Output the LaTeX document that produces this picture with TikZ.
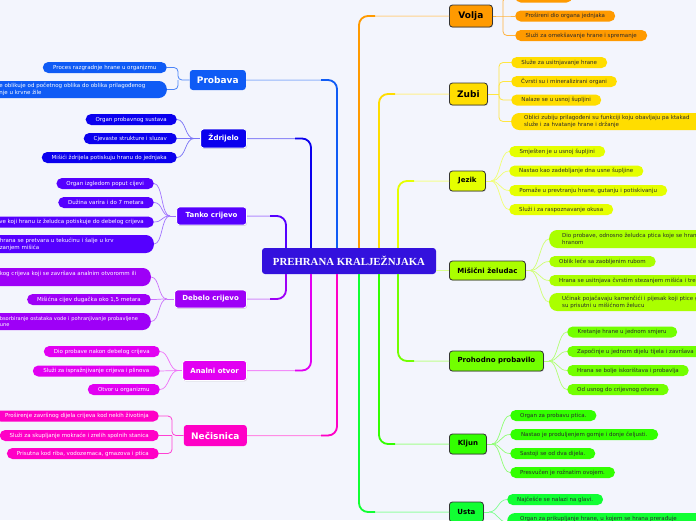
\documentclass[tikz,border=0pt]{standalone}
\usepackage{fontspec}
\setmainfont{DejaVu Sans}
\newfontfamily\serifface{Liberation Serif}
\usetikzlibrary{shadows,calc}
\definecolor{bg}{HTML}{F3F5FD}
\definecolor{cC}{HTML}{3311DD}
\definecolor{cProb}{HTML}{0F5BF5}
\definecolor{cZdr}{HTML}{0B00EE}
\definecolor{cTan}{HTML}{5500FF}
\definecolor{cDeb}{HTML}{9E00F7}
\definecolor{cAna}{HTML}{E200F2}
\definecolor{cNec}{HTML}{FF00C6}
\definecolor{cVol}{HTML}{FF9A00}
\definecolor{cZub}{HTML}{FFDD00}
\definecolor{cJez}{HTML}{E5FF00}
\definecolor{cMis}{HTML}{AAFF00}
\definecolor{cPro}{HTML}{72FF00}
\definecolor{cKlj}{HTML}{33FF00}
\definecolor{cUst}{HTML}{11FF33}
\definecolor{edge}{HTML}{333333}
\definecolor{txt}{HTML}{2A2A2A}
\tikzset{
  cent/.style={fill=cC, rounded corners=3pt, minimum width=174pt, minimum height=26pt, inner sep=0pt, text=white, font=\serifface\bfseries\fontsize{10.8}{12}\selectfont},
  mainbase/.style={rounded corners=3pt, inner sep=0pt, align=center},
  bigf/.style={font=\bfseries\fontsize{9}{10}\selectfont},
  smallf/.style={font=\bfseries\fontsize{7}{8}\selectfont},
  shad/.style={drop shadow={opacity=0.3, shadow xshift=0.6pt, shadow yshift=-0.9pt}},
  mainL/.style={mainbase, fill=#1, text=white, anchor=east},
  mainLw/.style={mainL=#1, draw=white, line width=0.8pt, shad},
  mainR/.style={mainbase, fill=#1, text=black, anchor=west, draw=edge, line width=0.8pt, shad},
  pill/.style={rounded corners=5.5pt, inner xsep=10pt, inner ysep=0pt, minimum height=11pt, font=\fontsize{5.5}{6.8}\selectfont},
  pillL/.style={pill, fill=#1, text=white, anchor=east},
  pillR/.style={pill, fill=#1, text=txt, anchor=west},
  tall/.style={rounded corners=8pt, minimum height=#1},
  trunkd/.style={draw=#1, line width=1.8pt, rounded corners=9pt},
  trunkl/.style={draw=#1!45!white, line width=1pt, rounded corners=9pt},
  twig/.style={draw=#1!55!white, line width=0.7pt},
  brack/.style={draw=#1!75!white, line width=0.8pt, rounded corners=4pt},
}
\newcommand\mytrunk[5]{\draw[trunkl=#1] (#2 -| #3) |- (#4); \draw[trunkd=#1] (#2 -| #3) |- ($(#3)+(#5,0)$);}
\newcommand\lefttwigs[4]{\foreach \n in {#3} {\draw[twig=#1] (\n.east) .. controls +(9,0) and +(-9,0) .. (#4);}\draw[twig=#1] (#4) -- (#2.west);}
\newcommand\righttwigs[4]{\foreach \n in {#3} {\draw[twig=#1] (\n.west) .. controls +(-9,0) and +(9,0) .. (#4);}\draw[twig=#1] (#4) -- (#2.east);}
\begin{document}
\begin{tikzpicture}[x=1pt,y=-1pt]
\useasboundingbox (0,0) rectangle (696,520);
\fill[bg] (0,0) rectangle (696,520);
\begin{scope}
\clip (0,0) rectangle (696,520);
% centre
\node[cent] (c) at (349,261) {PREHRANA KRALJEŽNJAKA};
% left main nodes
\node[mainL=cProb, bigf, minimum width=56pt, minimum height=20pt] (probava) at (246,80) {Probava};
\node[mainLw=cZdr, smallf, minimum width=46pt, minimum height=19pt] (zdrijelo) at (247,138.5) {Ždrijelo};
\node[mainLw=cTan, smallf, minimum width=70pt, minimum height=18pt] (tanko) at (247,216) {Tanko crijevo};
\node[mainLw=cDeb, smallf, minimum width=72pt, minimum height=18pt] (debelo) at (247,299) {Debelo crijevo};
\node[mainLw=cAna, smallf, minimum width=64pt, minimum height=20pt] (analni) at (247,370.5) {Analni otvor};
\node[mainL=cNec, bigf, minimum width=63pt, minimum height=21pt] (necisnica) at (247,435.5) {Nečisnica};
% right main nodes
\node[mainR=cVol, bigf, minimum width=43pt, minimum height=22pt] (volja) at (449,16) {Volja};
\node[mainR=cZub, bigf, minimum width=38pt, minimum height=22pt] (zubi) at (449,94) {Zubi};
\node[mainR=cJez, smallf, minimum width=36pt, minimum height=20pt] (jezik) at (449,181) {Jezik};
\node[mainR=cMis, smallf, minimum width=76pt, minimum height=19pt] (misicni) at (449,270.5) {Mišični želudac};
\node[mainR=cPro, smallf, minimum width=94pt, minimum height=20pt] (prohodno) at (449,361) {Prohodno probavilo};
\node[mainR=cKlj, smallf, minimum width=37pt, minimum height=20pt] (kljun) at (449,444) {Kljun};
\node[mainR=cUst, smallf, minimum width=34pt, minimum height=20pt] (usta) at (449,512) {Usta};
% left children
\node[pillL=cProb, minimum width=124pt] (pr1) at (167,67.5) {Proces razgradnje hrane u organizmu};
\node[pillL=cProb, tall=17pt, text width=157.5pt, align=left] (pr2) at (167,89.5) {e oblikuje od početnog oblika do oblika prilagođenog\\nje u krvne žile};
\node[pillL=cZdr, minimum width=90pt] (zd1) at (177,119.5) {Organ probavnog sustava};
\node[pillL=cZdr, minimum width=93pt] (zd2) at (177,138.5) {Cjevaste strukture i sluzav};
\node[pillL=cZdr, minimum width=135pt] (zd3) at (177,157.5) {Mišići ždrijela potiskuju hranu do jednjaka};
\node[pillL=cTan, minimum width=97pt] (tc1) at (154,183.5) {Organ izgledom poput cijevi};
\node[pillL=cTan, minimum width=95pt] (tc2) at (154,202.5) {Dužina varira i do 7 metara};
\node[pillL=cTan, text width=175pt, align=right] (tc3) at (154,222) {ve koji hranu iz želudca potiskuje do debelog crijeva};
\node[pillL=cTan, tall=18pt, text width=144pt, align=left] (tc4) at (154,244) {hrana se pretvara u tekućinu i šalje u krv\\zanjem mišića};
\node[pillL=cDeb, tall=18pt, text width=141pt, align=left] (dc1) at (151,277) {kog crijeva koji se završava analnim otvoromm ili\\\mbox{}};
\node[pillL=cDeb, minimum width=123pt] (dc2) at (151,299.5) {Mišićna cijev dugačka oko 1,5 metara};
\node[pillL=cDeb, tall=17pt, text width=141pt, align=left, font=\fontsize{5.1}{6.6}\selectfont] (dc3) at (151,321.5) {bsorbiranje ostataka vode i pohranjivanje probavljene\\une};
\node[pillL=cAna, minimum width=116pt] (ao1) at (160,351.5) {Dio probave nakon debelog crijeva};
\node[pillL=cAna, minimum width=127pt] (ao2) at (160,371) {Služi za ispražnjivanje crijeva i plinova};
\node[pillL=cAna, minimum width=72pt] (ao3) at (160,389.5) {Otvor u organizmu};
\node[pillL=cNec] (nc1) at (159,416) {Proširenje završnog dijela crijeva kod nekih životinja};
\node[pillL=cNec] (nc2) at (159,435.5) {Služi za skupljanje mokraće i zrelih spolnih stanica};
\node[pillL=cNec, minimum width=151pt] (nc3) at (159,453.5) {Prisutna kod riba, vodozemaca, gmazova i ptica};
% right children
\node[pillR=cVol, minimum width=57pt] (vo0) at (515,-3) {};
\node[pillR=cVol, minimum width=100pt] (vo1) at (515,16) {Prošireni dio organa jednjaka};
\node[pillR=cVol, minimum width=132pt] (vo2) at (515,35.5) {Služi za omekšavanje hrane i spremanje};
\node[pillR=cZub, minimum width=96pt] (zu1) at (511,62.5) {Služe za usitnjavanje hrane};
\node[pillR=cZub, minimum width=105pt] (zu2) at (511,81.5) {Čvrsti su i mineralizirani organi};
\node[pillR=cZub, minimum width=90pt] (zu3) at (511,100) {Nalaze se u usnoj šupljini};
\node[pillR=cZub, tall=17pt, inner xsep=13pt, text width=240pt, align=left] (zu4) at (511,121.5) {Oblici zubiju prilagođeni su funkciji koju obavljaju pa ktakad\\služe i za hvatanje hrane i držanje};
\node[pillR=cJez, minimum width=96pt] (je1) at (509,151.5) {Smješten je u usnoj šupljini};
\node[pillR=cJez, minimum width=134pt] (je2) at (509,171) {Nastao kao zadebljanje dna usne šupljine};
\node[pillR=cJez, minimum width=158pt] (je3) at (509,190.5) {Pomaže u prevtranju hrane, gutanju i potiskivanju};
\node[pillR=cJez, minimum width=104pt] (je4) at (509,209.5) {Služi i za raspoznavanje okusa};
\node[pillR=cMis, tall=18pt, inner xsep=13pt, text width=200pt, align=left] (ms1) at (549,239) {Dio probave, odnosno želudca ptica koje se hrane\\hranom};
\node[pillR=cMis, minimum width=105pt] (ms2) at (549,261.5) {Oblik leće sa zaobljenim rubom};
\node[pillR=cMis, text width=200pt, align=left] (ms3) at (549,280.5) {Hrana se usitnjava čvrstim stezanjem mišića i tre};
\node[pillR=cMis, tall=18pt, inner xsep=13pt, text width=200pt, align=left] (ms4) at (549,302) {Učinak pojačavaju kamenčići i pijesak koji ptice g\\su prisutni u mišićnom želucu};
\node[pillR=cPro, minimum width=110pt] (ph1) at (567,332) {Kretanje hrane u jednom smjeru};
\node[pillR=cPro, text width=200pt, align=left] (ph2) at (567,351.5) {Započinje u jednom dijelu tijela i završava u};
\node[pillR=cPro, minimum width=121pt] (ph3) at (567,370.5) {Hrana se bolje iskorištava i probavlja};
\node[pillR=cPro, minimum width=91pt] (ph4) at (567,389.5) {Od usnog do crijevnog otvora};
\node[pillR=cKlj, minimum width=85pt] (kl1) at (510,415.5) {Organ za probavu ptica.};
\node[pillR=cKlj, minimum width=148pt] (kl2) at (510,434.5) {Nastao je produljenjem gornje i donje čeljusti.};
\node[pillR=cKlj, minimum width=85pt] (kl3) at (510,453.5) {Sastoji se od dva dijela.};
\node[pillR=cKlj, minimum width=104pt] (kl4) at (510,472.5) {Presvučen je rožnatim ovojem.};
\node[pillR=cUst, minimum width=95pt] (us1) at (507,499.5) {Najčešće se nalazi na glavi.};
\node[pillR=cUst, tall=18pt, inner xsep=13pt, text width=240pt, align=left] (us2) at (507,522) {Organ za prikupljanje hrane, u kojem se hrana prerađuje\\\mbox{}};
% trunk turn points
\coordinate (tT) at (286,216);
\coordinate (tZ) at (311,138.5);
\coordinate (tP) at (337,80);
\coordinate (tV) at (359,16);
\coordinate (tZu) at (379,94);
\coordinate (tJ) at (398,181);
\coordinate (tD) at (286,299);
\coordinate (tA) at (311,370.5);
\coordinate (tN) at (337,435.5);
\coordinate (tU) at (359,512);
\coordinate (tK) at (379,444);
\coordinate (tPr) at (398,361);
\mytrunk{cTan}{c.north}{tT}{tanko.east}{-16}
\mytrunk{cZdr}{c.north}{tZ}{zdrijelo.east}{-16}
\mytrunk{cProb}{c.north}{tP}{probava.east}{-16}
\mytrunk{cVol}{c.north}{tV}{volja.west}{16}
\mytrunk{cZub}{c.north}{tZu}{zubi.west}{16}
\mytrunk{cJez}{c.north}{tJ}{jezik.west}{16}
\mytrunk{cDeb}{c.south}{tD}{debelo.east}{-16}
\mytrunk{cAna}{c.south}{tA}{analni.east}{-16}
\mytrunk{cNec}{c.south}{tN}{necisnica.east}{-16}
\mytrunk{cUst}{c.south}{tU}{usta.west}{16}
\mytrunk{cKlj}{c.south}{tK}{kljun.west}{16}
\mytrunk{cPro}{c.south}{tPr}{prohodno.west}{16}
\draw[trunkl=cMis] (c.east |- misicni.west) -- (misicni.west);
% brackets
\coordinate (bP) at (178,80);
\draw[brack=cProb] (pr1.east) -| (bP) -- (probava.west);
\draw[brack=cProb] (pr2.east) -| (bP);
\coordinate (bN) at (172,435.5);
\draw[brack=cNec] (nc1.east) -| (bN) -- (necisnica.west);
\draw[brack=cNec] (nc2.east) -- (bN);
\draw[brack=cNec] (nc3.east) -| (bN);
\coordinate (bV) at (503,16);
\draw[brack=cVol] (volja.east) -- (bV) -- (vo1.west);
\draw[brack=cVol] (bV) |- (vo0.west);
\draw[brack=cVol] (bV) |- (vo2.west);
\coordinate (bZ) at (499,94);
\draw[brack=cZub] (zubi.east) -- (bZ);
\draw[brack=cZub] (bZ) |- (zu1.west);
\draw[brack=cZub] (bZ) |- (zu2.west);
\draw[brack=cZub] (bZ) |- (zu3.west);
\draw[brack=cZub] (bZ) |- (zu4.west);
% curved twigs
\coordinate (jZ) at (194,138.5);
\lefttwigs{cZdr}{zdrijelo}{zd1,zd2,zd3}{jZ}
\coordinate (jT) at (170,216);
\lefttwigs{cTan}{tanko}{tc1,tc2,tc3,tc4}{jT}
\coordinate (jD) at (167,299);
\lefttwigs{cDeb}{debelo}{dc1,dc2,dc3}{jD}
\coordinate (jA) at (178,370.5);
\lefttwigs{cAna}{analni}{ao1,ao2,ao3}{jA}
\coordinate (jJ) at (491,181);
\righttwigs{cJez}{jezik}{je1,je2,je3,je4}{jJ}
\coordinate (jM) at (530,270.5);
\righttwigs{cMis}{misicni}{ms1,ms2,ms3,ms4}{jM}
\coordinate (jPr) at (549,361);
\righttwigs{cPro}{prohodno}{ph1,ph2,ph3,ph4}{jPr}
\coordinate (jK) at (492,444);
\righttwigs{cKlj}{kljun}{kl1,kl2,kl3,kl4}{jK}
\coordinate (jU) at (489,512);
\righttwigs{cUst}{usta}{us1,us2}{jU}
\end{scope}
\end{tikzpicture}
\end{document}
